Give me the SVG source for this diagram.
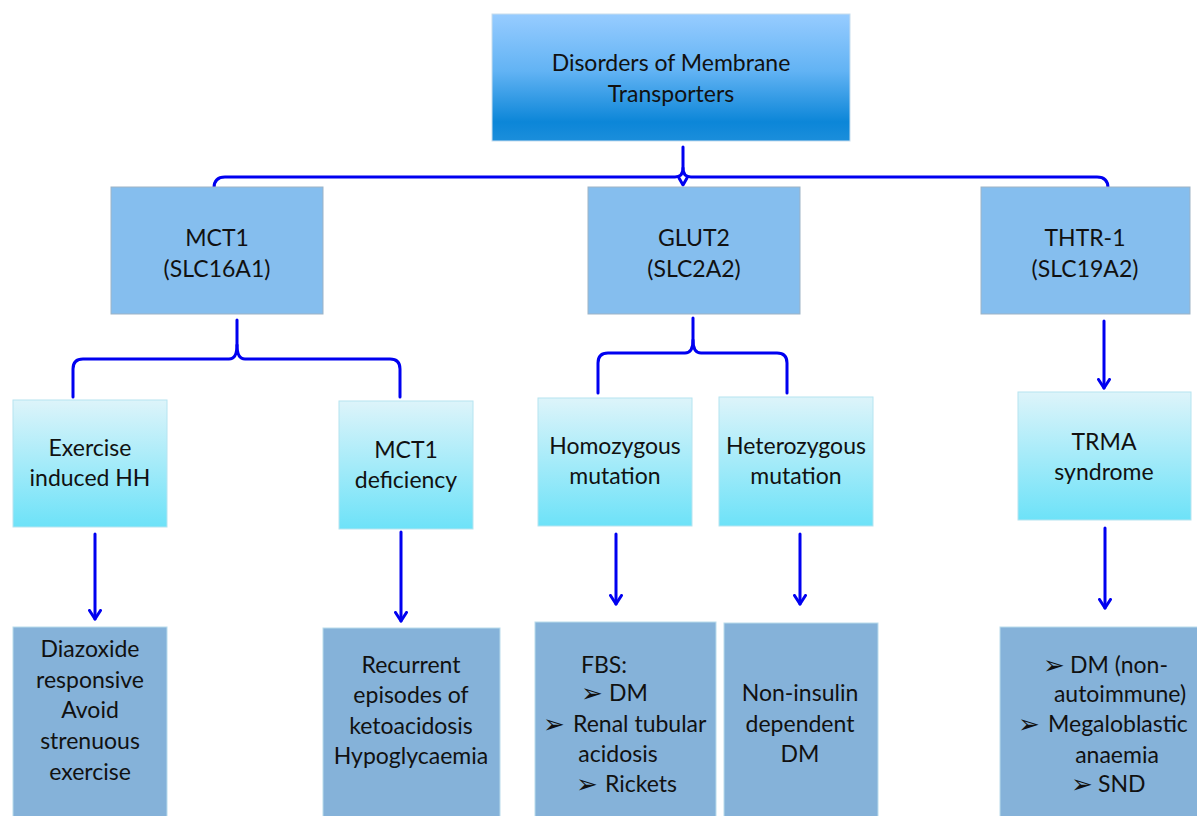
<svg xmlns="http://www.w3.org/2000/svg" width="1197" height="816" viewBox="0 0 1197 816">
<defs>
<linearGradient id="gTop" x1="0" y1="0" x2="0" y2="1">
<stop offset="0" stop-color="#97CCFF"/><stop offset="0.45" stop-color="#62B3F4"/><stop offset="0.85" stop-color="#0C86D8"/><stop offset="1" stop-color="#1B8EDB"/>
</linearGradient>
<linearGradient id="gL3" x1="0" y1="0" x2="0" y2="1">
<stop offset="0" stop-color="#DDF4FA"/><stop offset="1" stop-color="#6DE2F8"/>
</linearGradient>
<marker id="ah" markerWidth="12" markerHeight="14" refX="10.5" refY="7" orient="auto" markerUnits="userSpaceOnUse" viewBox="0 0 12 14">
<path d="M2,1.5 L10.5,7 L2,12.5" fill="none" stroke="#0000F0" stroke-width="3" stroke-linecap="round" stroke-linejoin="round"/>
</marker>
</defs>
<style>
text{font-family:Lato,"Open Sans","DejaVu Sans",sans-serif;font-size:23px;fill:#111;}
.c{text-anchor:middle;}
.b{font-family:"DejaVu Sans",sans-serif;font-size:26px;}
.top{fill:url(#gTop);stroke:#C8DDEE;stroke-width:1;}
.l2{fill:#85BEEE;stroke:#9DB3C6;stroke-width:1;}
.l3{fill:url(#gL3);stroke:#B6E4F0;stroke-width:1;}
.l4{fill:#85B2D9;stroke:#B9DCEC;stroke-width:1;}
.ln{fill:none;stroke:#0000F0;stroke-width:3;stroke-linecap:round;stroke-linejoin:round;}
</style>
<rect width="1197" height="816" fill="#FFFFFF"/>

<g id="connectors">
<path class="ln" d="M683,147 V168 Q683,177 675,177 H225 Q214,177 214,188"/>
<path class="ln" d="M683,168 Q683,177 691,177 H1097 Q1108,177 1108,188"/>
<path class="ln" d="M679,178 L683,185 L687,178"/>
<path class="ln" d="M237,320 V345 Q237,359 229,359 H83 Q73,359 73,369 V397"/>
<path class="ln" d="M237,345 Q237,359 245,359 H390 Q400,359 400,369 V397"/>
<path class="ln" d="M693,318 V340 Q693,353 685,353 H608 Q598,353 598,363 V393"/>
<path class="ln" d="M693,340 Q693,353 701,353 H777 Q787,353 787,363 V393"/>
<path class="ln" d="M1104,321 V388" marker-end="url(#ah)"/>
<path class="ln" d="M95,534 V619" marker-end="url(#ah)"/>
<path class="ln" d="M401,532 V621" marker-end="url(#ah)"/>
<path class="ln" d="M616,534 V604" marker-end="url(#ah)"/>
<path class="ln" d="M800,534 V604" marker-end="url(#ah)"/>
<path class="ln" d="M1105,528 V608" marker-end="url(#ah)"/>
</g>

<g id="n-root">
<rect class="top" x="492" y="14" width="358" height="127"/>
<text class="c" x="671" y="71">Disorders of Membrane</text>
<text class="c" x="671" y="102">Transporters</text>
</g>

<g id="n-mct1">
<rect class="l2" x="111" y="187" width="212" height="127"/>
<text class="c" x="217" y="246">MCT1</text>
<text class="c" x="217" y="277">(SLC16A1)</text>
</g>
<g id="n-glut2">
<rect class="l2" x="588" y="187" width="212" height="127"/>
<text class="c" x="694" y="246">GLUT2</text>
<text class="c" x="694" y="277">(SLC2A2)</text>
</g>
<g id="n-thtr1">
<rect class="l2" x="981" y="187" width="209" height="127"/>
<text class="c" x="1085" y="246">THTR-1</text>
<text class="c" x="1085" y="277">(SLC19A2)</text>
</g>

<g id="n-exercise">
<rect class="l3" x="13" y="400" width="154" height="127"/>
<text class="c" x="90" y="456">Exercise</text>
<text class="c" x="90" y="486">induced HH</text>
</g>
<g id="n-mct1def">
<rect class="l3" x="339" y="401" width="134" height="128"/>
<text class="c" x="406" y="458">MCT1</text>
<text class="c" x="406" y="488">deficiency</text>
</g>
<g id="n-homo">
<rect class="l3" x="538" y="398" width="154" height="128"/>
<text class="c" x="615" y="454">Homozygous</text>
<text class="c" x="615" y="484">mutation</text>
</g>
<g id="n-hetero">
<rect class="l3" x="719" y="397" width="154" height="129"/>
<text class="c" x="796" y="454">Heterozygous</text>
<text class="c" x="796" y="484">mutation</text>
</g>
<g id="n-trma">
<rect class="l3" x="1018" y="392" width="173" height="128"/>
<text class="c" x="1104" y="450">TRMA</text>
<text class="c" x="1104" y="480">syndrome</text>
</g>

<g id="n-diazoxide">
<rect class="l4" x="13" y="627" width="154" height="195"/>
<text class="c" x="90" y="657">Diazoxide</text>
<text class="c" x="90" y="688">responsive</text>
<text class="c" x="90" y="718">Avoid</text>
<text class="c" x="90" y="749">strenuous</text>
<text class="c" x="90" y="780">exercise</text>
</g>
<g id="n-recurrent">
<rect class="l4" x="323" y="628" width="177" height="194"/>
<text class="c" x="411" y="673">Recurrent</text>
<text class="c" x="411" y="703">episodes of</text>
<text class="c" x="411" y="734">ketoacidosis</text>
<text class="c" x="411" y="764">Hypoglycaemia</text>
</g>
<g id="n-fbs">
<rect class="l4" x="535" y="622" width="181" height="200"/>
<text class="c" x="604" y="673">FBS:</text>
<text class="b" x="581" y="702">➢</text><text x="609" y="701">DM</text>
<text class="b" x="543" y="733">➢</text><text x="573" y="732">Renal tubular</text>
<text class="c" x="618" y="762">acidosis</text>
<text class="b" x="576" y="793">➢</text><text x="605" y="792">Rickets</text>
</g>
<g id="n-noninsulin">
<rect class="l4" x="724" y="623" width="154" height="199"/>
<text class="c" x="800" y="701">Non-insulin</text>
<text class="c" x="800" y="732">dependent</text>
<text class="c" x="800" y="762">DM</text>
</g>
<g id="n-trma-features">
<rect class="l4" x="1000" y="627" width="205" height="195"/>
<text class="b" x="1043" y="674">➢</text><text x="1070" y="673">DM (non-</text>
<text class="c" x="1120" y="702">autoimmune)</text>
<text class="b" x="1018" y="733">➢</text><text x="1048" y="732">Megaloblastic</text>
<text class="c" x="1117" y="763">anaemia</text>
<text class="b" x="1071" y="793">➢</text><text x="1098" y="792">SND</text>
</g>
</svg>
